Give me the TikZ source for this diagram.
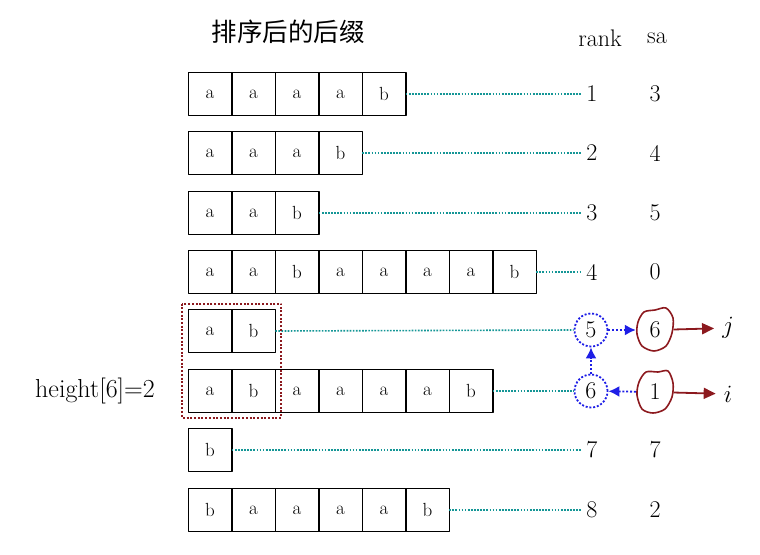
\documentclass[tikz,border=0pt]{standalone}
\usepackage{fontspec}
\newfontfamily\cjk{Noto Sans CJK SC}
\usetikzlibrary{positioning,arrows.meta}

\definecolor{tealdot}{RGB}{20,150,150}
\definecolor{darkred}{RGB}{140,25,30}
\definecolor{ringblue}{RGB}{30,30,230}

\tikzset{
  cell/.style={draw, line width=1.5pt, minimum width=43.5pt, minimum height=43pt,
    inner sep=0pt, outer sep=0pt, font=\fontsize{19}{22}\selectfont},
  num/.style={font=\fontsize{24}{28}\selectfont, inner sep=5pt},
  link/.style={tealdot, line width=1.6pt, line cap=butt, dash pattern=on 1.7pt off 1.4pt},
  ring/.style={circle, draw=ringblue, line width=1.8pt, line cap=butt,
    dash pattern=on 2pt off 1.8pt, minimum size=33pt, inner sep=0pt},
  spot/.style={circle, minimum size=38pt, inner sep=0pt},
  redblob/.style={darkred, line width=1.6pt},
  bluearrow/.style={ringblue, line width=1.8pt, line cap=butt, dash pattern=on 2pt off 1.8pt,
    -{Latex[length=11pt,width=11pt]}},
  redarrow/.style={darkred, line width=1.8pt, -{Triangle[length=12pt,width=11pt]}},
  hlbox/.style={darkred, line width=2pt, line cap=butt, dash pattern=on 2pt off 1.7pt},
}

\begin{document}
\begin{tikzpicture}[line cap=round, line join=round, x=1pt, y=-1pt]
  \useasboundingbox (0,0) rectangle (760,554);

  % headers
  \node[font=\fontsize{25.5}{30}\selectfont] (title) at (288,32) {\cjk 排序后的后缀};
  \node[num] (rankhd) at (600,38) {rank};
  \node[num] (sahd) at (657,38) {sa};

  % row 1
  \node[cell] (r1c1) at (210,94) {a};
  \node[cell, right=0pt of r1c1] (r1c2) {a};
  \node[cell, right=0pt of r1c2] (r1c3) {a};
  \node[cell, right=0pt of r1c3] (r1c4) {a};
  \node[cell, right=0pt of r1c4] (r1c5) {b};
  \node[num] (rank1) at (592,94) {1};
  \node[num] (sa1) at (655,94) {3};
  \draw[link] (r1c5.east) -- (rank1.west);

  % row 2
  \node[cell] (r2c1) at (210,153) {a};
  \node[cell, right=0pt of r2c1] (r2c2) {a};
  \node[cell, right=0pt of r2c2] (r2c3) {a};
  \node[cell, right=0pt of r2c3] (r2c4) {b};
  \node[num] (rank2) at (592,153) {2};
  \node[num] (sa2) at (655,153) {4};
  \draw[link] (r2c4.east) -- (rank2.west);

  % row 3
  \node[cell] (r3c1) at (210,213) {a};
  \node[cell, right=0pt of r3c1] (r3c2) {a};
  \node[cell, right=0pt of r3c2] (r3c3) {b};
  \node[num] (rank3) at (592,213) {3};
  \node[num] (sa3) at (655,213) {5};
  \draw[link] (r3c3.east) -- (rank3.west);

  % row 4
  \node[cell] (r4c1) at (210,272) {a};
  \node[cell, right=0pt of r4c1] (r4c2) {a};
  \node[cell, right=0pt of r4c2] (r4c3) {b};
  \node[cell, right=0pt of r4c3] (r4c4) {a};
  \node[cell, right=0pt of r4c4] (r4c5) {a};
  \node[cell, right=0pt of r4c5] (r4c6) {a};
  \node[cell, right=0pt of r4c6] (r4c7) {a};
  \node[cell, right=0pt of r4c7] (r4c8) {b};
  \node[num] (rank4) at (592,272) {4};
  \node[num] (sa4) at (655,272) {0};
  \draw[link] (r4c8.east) -- (rank4.west);

  % row 5
  \node[cell] (r5c1) at (210,331) {a};
  \node[cell, right=0pt of r5c1] (r5c2) {b};
  \node[num, ring] (rank5) at (591,330) {5};
  \node[num, spot] (sa5) at (655,330) {6};
  \draw[link] (r5c2.east) -- (rank5.west);

  % row 6
  \node[cell] (r6c1) at (210,391) {a};
  \node[cell, right=0pt of r6c1] (r6c2) {b};
  \node[cell, right=0pt of r6c2] (r6c3) {a};
  \node[cell, right=0pt of r6c3] (r6c4) {a};
  \node[cell, right=0pt of r6c4] (r6c5) {a};
  \node[cell, right=0pt of r6c5] (r6c6) {a};
  \node[cell, right=0pt of r6c6] (r6c7) {b};
  \node[num, ring] (rank6) at (591,391) {6};
  \node[num, spot] (sa6) at (655,392) {1};
  \draw[link] (r6c7.east) -- (rank6.west);

  % row 7
  \node[cell] (r7c1) at (210,450) {b};
  \node[num] (rank7) at (592,450) {7};
  \node[num] (sa7) at (655,450) {7};
  \draw[link] (r7c1.east) -- (rank7.west);

  % row 8
  \node[cell] (r8c1) at (210,510) {b};
  \node[cell, right=0pt of r8c1] (r8c2) {a};
  \node[cell, right=0pt of r8c2] (r8c3) {a};
  \node[cell, right=0pt of r8c3] (r8c4) {a};
  \node[cell, right=0pt of r8c4] (r8c5) {a};
  \node[cell, right=0pt of r8c5] (r8c6) {b};
  \node[num] (rank8) at (592,510) {8};
  \node[num] (sa8) at (655,510) {2};
  \draw[link] (r8c6.east) -- (rank8.west);

  % common prefix
  \draw[hlbox] ([shift={(-6pt,6pt)}]r5c1.north west) rectangle ([shift={(6pt,-5pt)}]r6c2.south east);
  \node[font=\fontsize{26}{30}\selectfont] (hlabel) at (95,391) {height[6]=2};

  % red blobs round sa values
  \draw[redblob, shift={(sa5.center)}] plot[smooth cycle] coordinates
    {(-17,-8) (-11,-18) (0,-20) (11,-22) (18,-12) (17,3) (11,16) (-1,21) (-13,16) (-18,4)};
  \draw[redblob, shift={(sa6.center)}] plot[smooth cycle] coordinates
    {(-16,-10) (-9,-20) (3,-20) (13,-21) (18,-9) (17,5) (10,17) (-2,21) (-13,17) (-18,3)};

  % arrows
  \node[font=\fontsize{25}{28}\selectfont, inner sep=8pt] (jlab) at (728,328) {$j$};
  \node[font=\fontsize{25}{28}\selectfont, inner sep=8pt] (ilab) at (728,394) {$i$};
  \draw[redarrow] (sa5) -- (jlab);
  \draw[redarrow] (sa6) -- (ilab);
  \draw[bluearrow] (sa6) -- (rank6);
  \draw[bluearrow] (rank6) -- (rank5);
  \draw[bluearrow] (rank5) -- (sa5);

\end{tikzpicture}
\end{document}
